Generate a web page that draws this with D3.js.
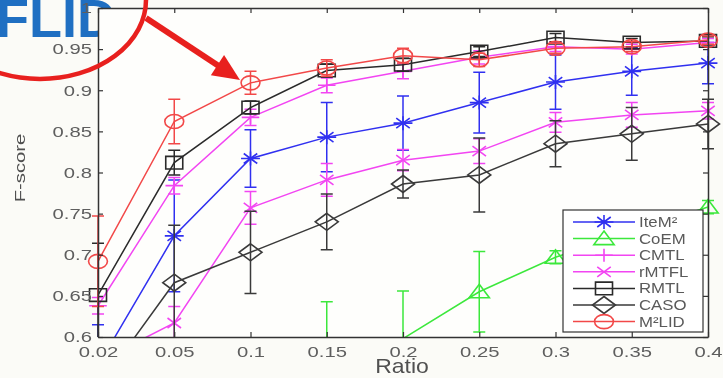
<!DOCTYPE html>
<html>
<head>
<meta charset="utf-8">
<script src="https://cdn.jsdelivr.net/npm/d3@7/dist/d3.min.js"></script>
<style>
  html, body { margin: 0; padding: 0; background: #fbfbf7; }
  svg { display: block; filter: blur(0.45px); }
</style>
</head>
<body>
<svg id="chart" width="723" height="378"></svg>
<script>
// Ratio of labelled samples (x categories) and F-score ticks
const ratios = ["0.02", "0.05", "0.1", "0.15", "0.2", "0.25", "0.3", "0.35", "0.4"];
const yTicks = [0.6, 0.65, 0.7, 0.75, 0.8, 0.85, 0.9, 0.95, 1];
const yTickLabels = ["0.6", "0.65", "0.7", "0.75", "0.8", "0.85", "0.9", "0.95", "1"];

// Mean F-score per method, with error-bar half widths
const iteM2     = [0.565, 0.723, 0.817, 0.843, 0.860, 0.885, 0.910, 0.923, 0.933];
const iteM2Err  = [0.050, 0.068, 0.035, 0.042, 0.033, 0.037, 0.033, 0.029, 0.025];
const coEM      = [0.450, 0.500, 0.530, 0.570, 0.598, 0.655, 0.697, 0.728, 0.758];
const coEMErr   = [0.040, 0.050, 0.060, 0.073, 0.058, 0.049, 0.008, 0.010, 0.008];
const cmtl      = [0.638, 0.784, 0.867, 0.906, 0.923, 0.940, 0.953, 0.950, 0.958];
const cmtlErr   = [0.010, 0.010, 0.010, 0.009, 0.009, 0.008, 0.006, 0.006, 0.005];
const rmtfl     = [0.570, 0.617, 0.757, 0.791, 0.815, 0.826, 0.861, 0.870, 0.875];
const rmtflErr  = [0.020, 0.020, 0.020, 0.020, 0.013, 0.015, 0.012, 0.015, 0.010];
const rmtl      = [0.651, 0.812, 0.879, 0.924, 0.931, 0.947, 0.964, 0.958, 0.960];
const rmtlErr   = [0.063, 0.015, 0.008, 0.008, 0.008, 0.006, 0.005, 0.005, 0.005];
const caso      = [0.538, 0.666, 0.703, 0.740, 0.786, 0.797, 0.835, 0.847, 0.859];
const casoErr   = [0.060, 0.070, 0.050, 0.034, 0.017, 0.045, 0.028, 0.032, 0.030];
const m2lid     = [0.692, 0.862, 0.909, 0.927, 0.942, 0.937, 0.951, 0.953, 0.961];
const m2lidErr  = [0.055, 0.027, 0.014, 0.010, 0.009, 0.008, 0.006, 0.006, 0.005];

const methodNames = ["IteM²", "CoEM", "CMTL", "rMTFL", "RMTL", "CASO", "M²LID"];

const series = [
  { name: methodNames[0], values: iteM2, err: iteM2Err, color: "#3030f0", marker: "star" },
  { name: methodNames[1], values: coEM,  err: coEMErr,  color: "#3ce83c", marker: "triangle" },
  { name: methodNames[2], values: cmtl,  err: cmtlErr,  color: "#f245f2", marker: "plus" },
  { name: methodNames[3], values: rmtfl, err: rmtflErr, color: "#f245f2", marker: "cross" },
  { name: methodNames[4], values: rmtl,  err: rmtlErr,  color: "#2a2a2a", marker: "square" },
  { name: methodNames[5], values: caso,  err: casoErr,  color: "#3a3a3a", marker: "diamond" },
  { name: methodNames[6], values: m2lid, err: m2lidErr, color: "#f24848", marker: "circle" }
];

const svg = d3.select("#chart");
const pL = 98, pR = 708, pT = 8, pB = 337;
const x = d3.scalePoint().domain(ratios).range([pL, pR]);
const y = d3.scaleLinear().domain([0.6, 1]).range([pB, pT]);

// the glyphs of this figure are stretched horizontally
const SX = 1.35;

function markerPath(type) {
  switch (type) {
    case "circle":   { const s = 7;   return `M${-s},0A${s},${s} 0 1 0 ${s},0A${s},${s} 0 1 0 ${-s},0Z`; }
    case "square":   { const s = 6.3; return `M${-s},${-s}H${s}V${s}H${-s}Z`; }
    case "diamond":  { const s = 8.5; return `M0,${-s}L${s},0L0,${s}L${-s},0Z`; }
    case "triangle": { const s = 7.5; return `M0,${-s}L${s},${s * 0.8}L${-s},${s * 0.8}Z`; }
    case "plus":     { const s = 6.5; return `M${-s},0H${s}M0,${-s}V${s}`; }
    case "cross":    { const s = 5;   return `M${-s},${-s}L${s},${s}M${-s},${s}L${s},${-s}`; }
    case "star":     { const s = 7, d = 5; return `M${-s},0H${s}M0,${-s}V${s}M${-d},${-d}L${d},${d}M${-d},${d}L${d},${-d}`; }
  }
}

// background
svg.append("rect").attr("width", 723).attr("height", 378).attr("fill", "#fbfbf7");

// call-out text behind the axes
svg.append("text")
  .attr("x", 116).attr("y", 37)
  .attr("text-anchor", "end")
  .attr("font-family", "Liberation Sans, Arial, sans-serif")
  .attr("font-weight", "bold")
  .attr("font-size", 54)
  .attr("fill", "#1f6fc2")
  .text("FLID");

// plot box
svg.append("rect")
  .attr("x", pL).attr("y", pT)
  .attr("width", pR - pL).attr("height", pB - pT)
  .attr("fill", "#fefefc").attr("stroke", "none");

const defs = svg.append("defs");
defs.append("clipPath").attr("id", "plotClip")
  .append("rect").attr("x", 0).attr("y", 0).attr("width", 723).attr("height", pB);

const plot = svg.append("g").attr("clip-path", "url(#plotClip)");

const line = d3.line().x((d, i) => x(ratios[i])).y(d => y(d));

series.forEach(s => {
  const g = plot.append("g").attr("stroke", s.color).attr("fill", "none").attr("stroke-width", 1.5);
  g.append("path").attr("d", line(s.values));
  // error bars
  s.values.forEach((v, i) => {
    const cx = x(ratios[i]);
    const y0 = y(v - s.err[i]), y1 = y(v + s.err[i]);
    g.append("path").attr("d", `M${cx},${y0}V${y1}M${cx - 6},${y0}H${cx + 6}M${cx - 6},${y1}H${cx + 6}`);
  });
  // markers only where the value sits inside the axis range
  s.values.forEach((v, i) => {
    if (v < 0.6 || v > 1) return;
    g.append("path")
      .attr("d", markerPath(s.marker))
      .attr("transform", `translate(${x(ratios[i])},${y(v)}) scale(${SX},1)`)
      .attr("vector-effect", "non-scaling-stroke")
      .attr("stroke-width", 1.6);
  });
});

// axes: MATLAB-style box with inward ticks
const axisColor = "#333";
const labelColor = "#5e5e5e";
const tickFont = "Liberation Sans, Arial, sans-serif";

const gLeft = svg.append("g").attr("transform", `translate(${pL},0)`)
  .call(d3.axisLeft(y).tickValues(yTicks).tickFormat((d, i) => yTickLabels[i]).tickSizeInner(-5).tickSizeOuter(0).tickPadding(4.5));
const gRight = svg.append("g").attr("transform", `translate(${pR},0)`)
  .call(d3.axisRight(y).tickValues(yTicks).tickFormat("").tickSizeInner(-5).tickSizeOuter(0));
const gBottom = svg.append("g").attr("transform", `translate(0,${pB})`)
  .call(d3.axisBottom(x).tickSizeInner(-5).tickSizeOuter(0).tickPadding(9));
const gTop = svg.append("g").attr("transform", `translate(0,${pT})`)
  .call(d3.axisTop(x).tickFormat("").tickSizeInner(-5).tickSizeOuter(0));

[gLeft, gRight, gBottom, gTop].forEach(g => {
  g.select(".domain").attr("stroke", axisColor).attr("stroke-width", 1.5);
  g.selectAll(".tick line").attr("stroke", axisColor).attr("stroke-width", 1.2);
  g.selectAll("text")
    .attr("fill", labelColor)
    .attr("font-family", tickFont)
    .attr("font-size", 15)
    .attr("transform", `scale(${SX},1)`);
});

// axis titles
svg.append("text")
  .attr("transform", `translate(402,373) scale(1.15,1)`)
  .attr("text-anchor", "middle")
  .attr("font-family", tickFont)
  .attr("font-size", 20)
  .attr("fill", "#505050")
  .text("Ratio");

svg.append("text")
  .attr("transform", `translate(25,168) rotate(-90) scale(1.45,1)`)
  .attr("text-anchor", "middle")
  .attr("font-family", tickFont)
  .attr("font-size", 14)
  .attr("fill", "#505050")
  .text("F-score");

// legend
const lg = svg.append("g");
lg.append("rect")
  .attr("x", 563).attr("y", 210).attr("width", 140).attr("height", 122)
  .attr("fill", "#ffffff").attr("stroke", axisColor).attr("stroke-width", 1.2);
series.forEach((s, i) => {
  const ly = 222 + i * 16.6;
  const row = lg.append("g").attr("stroke", s.color).attr("fill", "none");
  row.append("path").attr("d", `M573,${ly}H635`).attr("stroke-width", 1.5);
  row.append("path")
    .attr("d", markerPath(s.marker))
    .attr("transform", `translate(604,${ly}) scale(${SX},1)`)
    .attr("vector-effect", "non-scaling-stroke")
    .attr("stroke-width", 1.6);
  lg.append("text")
    .attr("transform", `translate(639,${ly + 5}) scale(1.2,1)`)
    .attr("font-family", tickFont)
    .attr("font-size", 14)
    .attr("fill", "#5a5a5a")
    .text(s.name);
});

// call-out ring and arrow on top
const red = "#e8201e";
svg.append("ellipse")
  .attr("cx", 40).attr("cy", 0).attr("rx", 106).attr("ry", 79)
  .attr("fill", "none").attr("stroke", red).attr("stroke-width", 4.5);

const a0 = [146, 18], tip = [240, 80];
const dx = tip[0] - a0[0], dy = tip[1] - a0[1];
const len = Math.hypot(dx, dy), ux = dx / len, uy = dy / len;
const headLen = 27, headHalf = 12;
const base = [tip[0] - ux * headLen, tip[1] - uy * headLen];
svg.append("line")
  .attr("x1", a0[0]).attr("y1", a0[1])
  .attr("x2", base[0] + ux * 2).attr("y2", base[1] + uy * 2)
  .attr("stroke", red).attr("stroke-width", 6);
svg.append("path")
  .attr("d", `M${tip[0]},${tip[1]}L${base[0] - uy * headHalf},${base[1] + ux * headHalf}L${base[0] + uy * headHalf},${base[1] - ux * headHalf}Z`)
  .attr("fill", red);
</script>
</body>
</html>
